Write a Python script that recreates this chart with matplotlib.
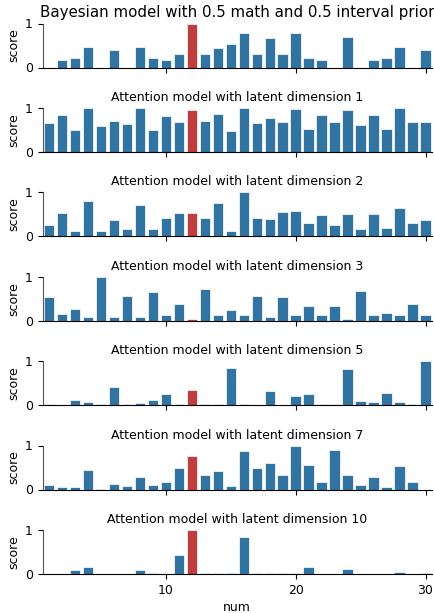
"""Bar panels: score per num for the Bayesian model and the attention models."""

import matplotlib
matplotlib.use("Agg")
import matplotlib.pyplot as plt
import numpy as np

# ---------------------------------------------------------------------------
# Data
# ---------------------------------------------------------------------------
nums = np.arange(1, 31)
highlight = 12

bayes = [0.0, 0.16, 0.22, 0.47, 0.0, 0.39, 0.0, 0.47, 0.22, 0.16,
         0.30, 1.0, 0.30, 0.45, 0.54, 0.79, 0.30, 0.68, 0.30, 0.79,
         0.22, 0.16, 0.0, 0.70, 0.0, 0.16, 0.22, 0.47, 0.0, 0.39]
latent_1 = [0.66, 0.84, 0.49, 1.0, 0.58, 0.70, 0.64, 1.0, 0.49, 0.81,
            0.68, 0.96, 0.70, 0.87, 0.47, 1.0, 0.66, 0.77, 0.68, 0.98,
            0.52, 0.85, 0.68, 0.95, 0.62, 0.85, 0.52, 1.0, 0.68, 0.68]
latent_2 = [0.26, 0.52, 0.11, 0.80, 0.11, 0.36, 0.17, 0.71, 0.17, 0.42,
            0.52, 0.52, 0.42, 0.76, 0.13, 1.0, 0.42, 0.40, 0.56, 0.58,
            0.31, 0.48, 0.26, 0.50, 0.17, 0.50, 0.19, 0.65, 0.30, 0.36]
latent_3 = [0.55, 0.15, 0.27, 0.08, 1.0, 0.08, 0.57, 0.08, 0.65, 0.14,
            0.37, 0.04, 0.71, 0.14, 0.25, 0.12, 0.57, 0.08, 0.54, 0.14,
            0.33, 0.14, 0.33, 0.04, 0.67, 0.12, 0.18, 0.12, 0.37, 0.14]
latent_5 = [0.02, 0.0, 0.12, 0.06, 0.02, 0.42, 0.02, 0.04, 0.12, 0.25,
            0.02, 0.35, 0.02, 0.02, 0.84, 0.02, 0.0, 0.33, 0.0, 0.21,
            0.25, 0.02, 0.02, 0.82, 0.10, 0.06, 0.27, 0.06, 0.02, 1.0]
latent_7 = [0.10, 0.06, 0.06, 0.44, 0.02, 0.12, 0.08, 0.29, 0.10, 0.17,
            0.48, 0.77, 0.32, 0.42, 0.08, 0.88, 0.48, 0.61, 0.33, 1.0,
            0.56, 0.17, 0.89, 0.33, 0.10, 0.29, 0.06, 0.54, 0.17, 0.0]
latent_10 = [0.0, 0.0, 0.08, 0.15, 0.0, 0.0, 0.0, 0.08, 0.02, 0.0,
             0.44, 1.0, 0.02, 0.02, 0.02, 0.84, 0.02, 0.02, 0.02, 0.02,
             0.15, 0.0, 0.0, 0.11, 0.0, 0.0, 0.0, 0.05, 0.0, 0.02]

panels = [
    ("Bayesian model with 0.5 math and 0.5 interval prior", bayes),
    ("Attention model with latent dimension 1", latent_1),
    ("Attention model with latent dimension 2", latent_2),
    ("Attention model with latent dimension 3", latent_3),
    ("Attention model with latent dimension 5", latent_5),
    ("Attention model with latent dimension 7", latent_7),
    ("Attention model with latent dimension 10", latent_10),
]

# ---------------------------------------------------------------------------
# Style
# ---------------------------------------------------------------------------
_BLUE = "#3274a1"
_RED = "#c03d3e"
_W, _H = 434, 613
_FS = 9

fig = plt.figure(figsize=(_W / 100, _H / 100), dpi=100)

# pixel geometry of each panel: top of the axes (y=1) and the zero line
_LEFT, _RIGHT = 42.5, 432.0
_TOP0, _STEP, _AX_H = 23.5, 84.4, 44.0

for i, (title, values) in enumerate(panels):
    top = _TOP0 + i * _STEP
    ax = fig.add_axes([
        _LEFT / _W,
        1 - (top + _AX_H) / _H,
        (_RIGHT - _LEFT) / _W,
        _AX_H / _H,
    ])
    colors = [_RED if n == highlight else _BLUE for n in nums]
    ax.bar(nums, values, width=0.8, color=colors,
           edgecolor="#ffffff", linewidth=0.5)

    ax.set_xlim(0.5, 30.5)
    ax.set_ylim(0, 1.0)
    ax.set_yticks([0, 1])
    ax.set_xticks([10, 20, 30])
    ax.set_ylabel("score", fontsize=_FS, labelpad=3)
    ax.set_title(title, fontsize=10.8 if i == 0 else _FS, pad=5)
    ax.spines["top"].set_visible(False)
    ax.spines["right"].set_visible(False)
    ax.spines["left"].set_color("#555555")
    ax.tick_params(labelsize=_FS, length=3.5)
    if i < len(panels) - 1:
        ax.tick_params(labelbottom=False)
    else:
        ax.set_xlabel("num", fontsize=_FS, labelpad=3)

fig.savefig("out.png", dpi=100)
